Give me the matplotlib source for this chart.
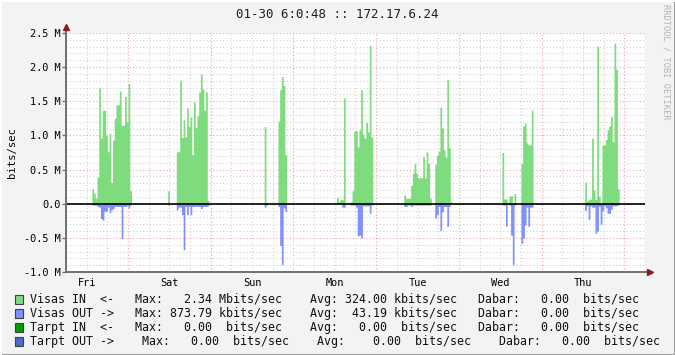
import numpy as np
import matplotlib.pyplot as plt
from matplotlib.lines import Line2D
from matplotlib.patches import Rectangle
from matplotlib.ticker import FuncFormatter

title = "01-30 6:0:48 :: 172.17.6.24"
days = ["Fri", "Sat", "Sun", "Mon", "Tue", "Wed", "Thu"]

# 30 minute averages in Mbit/s; each burst starts at an hour counted from Fri 00:00
fri_start = 13.5
fri_in = [0.22, 0.15, 0.08, 0.39, 1.70, 0.96, 1.37, 1.37, 1.00, 0.76, 1.03, 0.31,
          0.93, 1.25, 1.45, 1.45, 1.65, 1.15, 1.15, 1.57, 1.20, 1.76, 0.19]
fri_out = [0.02, 0.02, 0.02, 0.04, 0.05, 0.22, 0.24, 0.11, 0.11, 0.05, 0.13, 0.09,
           0.07, 0.04, 0.04, 0.04, 0.04, 0.51, 0.04, 0.04, 0.03, 0.06, 0.02]

sat_start = 35.5
sat_in = [0.19, 0, 0, 0, 0, 0.76, 0.76, 1.81, 0.97, 1.23, 0.98, 1.40,
          1.13, 1.27, 0.72, 1.49, 1.12, 1.29, 1.64, 1.90, 1.68, 1.37, 1.64, 0.05]
sat_out = [0.02, 0, 0, 0, 0, 0.09, 0.05, 0.05, 0.16, 0.67, 0.04, 0.16,
           0.04, 0.16, 0.04, 0.04, 0.04, 0.04, 0.04, 0.07, 0.04, 0.04, 0.04, 0.03]

sun_start = 63.5
sun_in = [1.13, 0.02, 0, 0, 0, 0, 0, 0, 1.21, 1.67, 1.86, 1.73, 0.72]
sun_out = [0.05, 0.02, 0, 0, 0, 0, 0, 0, 0.04, 0.61, 0.89, 0.06, 0.11]

mon_start = 84.5
mon_in = [0.09, 0.03, 0.06, 0.06, 1.55, 0, 0, 0, 0.03, 0.19, 1.07, 1.07,
          0.83, 1.08, 1.67, 1.02, 0.96, 1.19, 1.05, 2.32, 0.98]
mon_out = [0, 0, 0, 0.05, 0.05, 0, 0, 0, 0.02, 0.02, 0.02, 0.05,
           0.47, 0.46, 0.50, 0.03, 0.03, 0.03, 0.03, 0.14, 0.02]

tue_start = 104.0
tue_in = [0.13, 0.08, 0.08, 0.08, 0.27, 0.45, 0.59, 0.45, 0.38, 0.38, 0.38, 0.69,
          0.38, 0.76, 0.59, 0.08, 0, 0, 0.58, 0.71, 0.77, 1.41, 1.11, 0.79,
          0.68, 1.82, 0.82, 0.03]
tue_out = [0.04, 0.04, 0.02, 0.02, 0.04, 0.02, 0.02, 0.02, 0.02, 0.02, 0.02, 0.02,
           0.02, 0.02, 0.02, 0.02, 0, 0, 0.21, 0.16, 0.04, 0.39, 0.12, 0.04,
           0.04, 0.33, 0.04, 0]

wed_start = 132.5
wed_in = [0.75, 0.07, 0.07, 0, 0.11, 0.12, 0.01, 0.15, 0, 0, 0, 0.59,
          1.14, 1.18, 0.89, 0.86, 0.86, 1.37]
wed_out = [0.02, 0.02, 0.33, 0, 0.02, 0.46, 0.89, 0.02, 0, 0, 0, 0.58,
           0.50, 0.31, 0.05, 0.33, 0.05, 0.05]

thu_start = 156.5
thu_in = [0.31, 0.04, 0.06, 0.07, 0.96, 0.20, 0.06, 2.31, 0.11, 0, 0.86, 0.86,
          0.94, 1.08, 1.14, 1.28, 0.90, 2.35, 1.97, 0.22]
thu_out = [0.10, 0.03, 0.23, 0.03, 0.05, 0.05, 0.43, 0.40, 0.04, 0.30, 0.10, 0.03,
           0.06, 0.14, 0.14, 0.08, 0.03, 0.03, 0.03, 0.02]

bursts = [(fri_start, fri_in, fri_out), (sat_start, sat_in, sat_out),
          (sun_start, sun_in, sun_out), (mon_start, mon_in, mon_out),
          (tue_start, tue_in, tue_out), (wed_start, wed_in, wed_out),
          (thu_start, thu_in, thu_out)]

legend_rows = [
    ("#7EDC7E", "Visas IN  <-   Max:   2.34 Mbits/sec    Avg: 324.00 kbits/sec   Dabar:   0.00  bits/sec"),
    ("#8090FF", "Visas OUT ->   Max: 873.79 kbits/sec    Avg:  43.19 kbits/sec   Dabar:   0.00  bits/sec"),
    ("#00A000", "Tarpt IN  <-   Max:   0.00  bits/sec    Avg:   0.00  bits/sec   Dabar:   0.00  bits/sec"),
    ("#4F6BCF", "Tarpt OUT ->    Max:   0.00  bits/sec    Avg:    0.00  bits/sec    Dabar:   0.00  bits/sec"),
]

# full week series
t_start, t_end, step = 6.0, 174.0, 0.5
n = int((t_end - t_start) / step)
edges = t_start + step * np.arange(n + 1)
v_in = np.zeros(n)
v_out = np.zeros(n)
for start, vi, vo in bursts:
    i0 = int(round((start - t_start) / step))
    v_in[i0:i0 + len(vi)] = vi
    v_out[i0:i0 + len(vo)] = vo

mono = "DejaVu Sans Mono"
fig = plt.figure(figsize=(6.75, 3.55), dpi=100, facecolor="#F3F3F3")
ax = fig.add_axes([66 / 675, 1 - 272 / 355, 579 / 675, 239 / 355])
ax.set_facecolor("white")
ax.set_xlim(t_start, t_end)
ax.set_ylim(-1.0, 2.5)

# grid
minor_c, major_c = "#D2D2D2", "#E9A6A6"
dots = (0, (1, 2))
for x in np.arange(t_start, t_end + 0.1, 6):
    c = major_c if x % 24 == 0 else minor_c
    ax.axvline(x, color=c, lw=0.8, ls=dots, zorder=1)
for y in np.arange(-1.0, 2.51, 0.1):
    c = major_c if abs(round(y * 10) % 5) == 0 else minor_c
    ax.axhline(y, color=c, lw=0.8, ls=dots, zorder=1)

ax.fill_between(edges, np.append(v_in, v_in[-1]), step="post",
                color="#7EDC7E", lw=0, zorder=2)
ax.fill_between(edges, -np.append(v_out, v_out[-1]), step="post",
                color="#8090FF", lw=0, zorder=2)
ax.axhline(0, color="black", lw=1.2, zorder=3)

for s in ["top", "right", "left", "bottom"]:
    ax.spines[s].set_visible(False)
axis_c = "#707070"
ax.add_line(Line2D([0, 0], [0, 1.02], transform=ax.transAxes, color=axis_c,
                   lw=1.4, clip_on=False, zorder=4))
ax.add_line(Line2D([0, 1.006], [0, 0], transform=ax.transAxes, color=axis_c,
                   lw=1.4, clip_on=False, zorder=4))
ax.plot([0], [1.025], marker="^", ms=4, color="#8B1A1A", transform=ax.transAxes,
        clip_on=False, zorder=5)
ax.plot([1.009], [0], marker=">", ms=4, color="#8B1A1A", transform=ax.transAxes,
        clip_on=False, zorder=5)

ax.set_xticks(np.arange(12, 168, 24), labels=days)
ax.tick_params(axis="x", length=0, pad=4, labelsize=7.4, labelfontfamily=mono)
ax.set_yticks(np.arange(-1.0, 2.51, 0.5))
ax.yaxis.set_major_formatter(FuncFormatter(
    lambda v, p: "0.0" if abs(v) < 1e-9 else f"{v:.1f} M"))
ax.tick_params(axis="y", length=3, width=1, color=axis_c, pad=1,
               labelsize=7.4, labelfontfamily=mono)

fig.text(0.5, 1 - 15 / 355, title, ha="center", va="center", fontsize=9,
         family=mono, color="#202020")
fig.text(12 / 675, 1 - 152 / 355, "bits/sec", rotation=90, ha="center",
         va="center", fontsize=7.6, family=mono)
fig.text(666 / 675, 1 - 4 / 355, "RRDTOOL / TOBI OETIKER", rotation=-90,
         ha="center", va="top", fontsize=6.2, family=mono, color="#B4B4B4")

for k, (c, txt) in enumerate(legend_rows):
    yc = 1 - (299 + 14 * k) / 355
    fig.add_artist(Rectangle((15 / 675, yc - 4.5 / 355), 8 / 675, 9 / 355,
                             facecolor=c, edgecolor="#404040", lw=0.8))
    fig.text(30 / 675, yc, txt, ha="left", va="center", fontsize=8.4,
             family=mono, color="#101010")

# raised frame
fig.add_artist(Line2D([0, 1], [0.5 / 355, 0.5 / 355], color="#9C9C9C", lw=1.5))
fig.add_artist(Line2D([1 - 0.5 / 675, 1 - 0.5 / 675], [0, 1], color="#9C9C9C", lw=1.5))
fig.add_artist(Line2D([0, 1], [1 - 0.5 / 355, 1 - 0.5 / 355], color="white", lw=1.5))
fig.add_artist(Line2D([0.5 / 675, 0.5 / 675], [0, 1], color="white", lw=1.5))

fig.savefig("out.png", dpi=100, facecolor=fig.get_facecolor())
